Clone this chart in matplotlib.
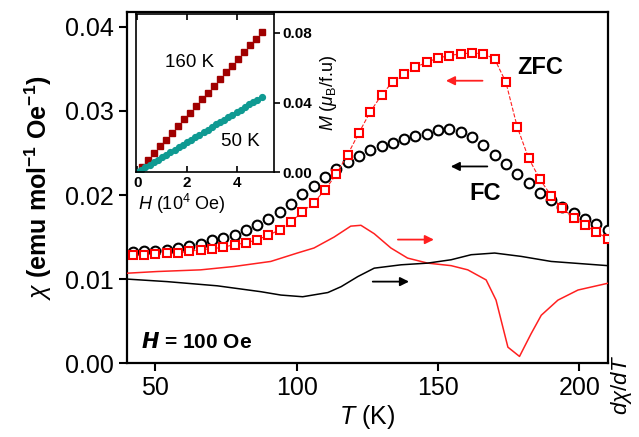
import matplotlib
matplotlib.use("Agg")
import matplotlib.pyplot as plt

plt.rcParams['font.family'] = ['Liberation Sans', 'DejaVu Sans']
plt.rcParams['mathtext.fontset'] = 'custom'
plt.rcParams['mathtext.rm'] = 'Liberation Sans'
plt.rcParams['mathtext.it'] = 'Liberation Sans:italic'
plt.rcParams['mathtext.bf'] = 'Liberation Sans:bold'

# chi(T), ZFC and FC, H = 100 Oe
T = [42, 46, 50, 54, 58, 62, 66, 70, 74, 78, 82, 86, 90, 94, 98, 102, 106, 110,
     114, 118, 122, 126, 130, 134, 138, 142, 146, 150, 154, 158, 162, 166, 170,
     174, 178, 182, 186, 190, 194, 198, 202, 206, 210]
chi_zfc = [0.0129, 0.0129, 0.0130, 0.0131, 0.0131, 0.0133, 0.0135, 0.0136, 0.0138,
           0.0141, 0.0143, 0.0147, 0.0152, 0.0159, 0.0168, 0.0180, 0.0191, 0.0206,
           0.0225, 0.0248, 0.0274, 0.0299, 0.0319, 0.0335, 0.0344, 0.0352, 0.0358,
           0.0363, 0.0366, 0.0368, 0.0369, 0.0368, 0.0362, 0.0334, 0.0281, 0.0244,
           0.0219, 0.0199, 0.0184, 0.0173, 0.0164, 0.0156, 0.0148]
chi_fc = [0.0132, 0.0133, 0.0134, 0.0135, 0.0137, 0.0139, 0.0142, 0.0146, 0.0149,
          0.0153, 0.0158, 0.0164, 0.0171, 0.0180, 0.0189, 0.0201, 0.0211, 0.0222,
          0.0231, 0.0239, 0.0246, 0.0253, 0.0258, 0.0262, 0.0267, 0.0270, 0.0273,
          0.0277, 0.0278, 0.0275, 0.0269, 0.0260, 0.0248, 0.0237, 0.0225, 0.0214,
          0.0203, 0.0194, 0.0186, 0.0179, 0.0172, 0.0166, 0.0159]

# d(chi)/dT curves (arbitrary units, right axis)
T_dzfc = [40, 50.6, 66, 77.8, 90.8, 100.2, 106.1, 113.2, 119.1, 122.7, 127.4, 133.3,
          139.2, 146.3, 154.6, 160.5, 167, 170.5, 174.7, 178.8, 182.9, 186.5, 192.4,
          199.5, 210]
dchi_zfc = [0.0107, 0.0109, 0.0111, 0.0115, 0.0121, 0.0131, 0.0137, 0.0150, 0.0163,
            0.0164, 0.0154, 0.0137, 0.0125, 0.0119, 0.0116, 0.0111, 0.0099, 0.0075,
            0.0019, 0.0008, 0.0035, 0.0057, 0.0075, 0.0087, 0.0095]
T_dfc = [40, 54.1, 71.9, 87.3, 94.4, 102.1, 111, 115.7, 121.6, 127.4, 136.9, 146.3,
         154.6, 161.7, 170, 179.4, 190, 210]
dchi_fc = [0.0100, 0.0097, 0.0092, 0.0085, 0.0081, 0.0079, 0.0084, 0.0091, 0.0103,
           0.0113, 0.0117, 0.0119, 0.0123, 0.0129, 0.0131, 0.0127, 0.0121, 0.0116]

# inset: M(H)
H_160 = [0.20, 0.44, 0.68, 0.92, 1.16, 1.40, 1.64, 1.88, 2.12, 2.36, 2.60, 2.84,
         3.08, 3.32, 3.56, 3.80, 4.04, 4.28, 4.52, 4.76, 5.00]
M_160 = [0.0032, 0.0071, 0.0109, 0.0148, 0.0187, 0.0225, 0.0264, 0.0303, 0.0341,
         0.0380, 0.0419, 0.0457, 0.0496, 0.0535, 0.0573, 0.0612, 0.0650, 0.0689,
         0.0728, 0.0766, 0.0805]
H_50 = [0.00, 0.17, 0.33, 0.50, 0.67, 0.83, 1.00, 1.17, 1.33, 1.50, 1.67, 1.83,
        2.00, 2.17, 2.33, 2.50, 2.67, 2.83, 3.00, 3.17, 3.33, 3.50, 3.67, 3.83,
        4.00, 4.17, 4.33, 4.50, 4.67, 4.83, 5.00]
M_50 = [0.0000, 0.0015, 0.0029, 0.0043, 0.0058, 0.0072, 0.0086, 0.0101, 0.0115,
        0.0130, 0.0144, 0.0158, 0.0173, 0.0187, 0.0201, 0.0216, 0.0231, 0.0245,
        0.0259, 0.0274, 0.0288, 0.0302, 0.0317, 0.0331, 0.0346, 0.0360, 0.0374,
        0.0389, 0.0403, 0.0417, 0.0432]

fig = plt.figure(figsize=(6.39, 4.37), dpi=100)
ax = fig.add_axes([0.199, 0.169, 0.752, 0.804])

ax.plot(T, chi_fc, 'o', mfc='white', mec='black', mew=1.5, ms=7, zorder=3)
ax.plot(T, chi_zfc, 's', ls='--', lw=0.8, color='#ff2020', mfc='white',
        mec='#ff0000', mew=1.5, ms=6.2, zorder=4)

ax.set_xlim(40, 210)
ax.set_ylim(0, 0.0418)
ax.set_xticks([50, 100, 150, 200])
ax.set_yticks([0.00, 0.01, 0.02, 0.03, 0.04])
ax.set_yticklabels(['0.00', '0.01', '0.02', '0.03', '0.04'])
ax.tick_params(direction='out', length=6, width=1.5, labelsize=18, right=False, top=False)
for s in ax.spines.values():
    s.set_linewidth(1.6)
ax.set_xlabel(r'$T$ (K)', fontsize=18, labelpad=2)
ax.set_ylabel(r'$\chi$ (emu mol$^{\mathbf{-1}}$ Oe$^{\mathbf{-1}}$)', fontsize=18,
              fontweight='bold', labelpad=8)

# derivative curves on the right axis
ax2 = ax.twinx()
ax2.plot(T_dzfc, dchi_zfc, color='#ff2020', lw=1.1)
ax2.plot(T_dfc, dchi_fc, color='black', lw=1.1)
ax2.set_ylim(0, 0.0418)
ax2.set_yticks([])
for s in ax2.spines.values():
    s.set_visible(False)
fig.text(0.972, 0.12, r'$d\chi/dT$', rotation=90, fontsize=16, ha='center', va='center')

# arrows
arrow_kw = dict(arrowstyle='-|>', lw=1.3, mutation_scale=13)
ax.annotate('', xy=(151.8, 0.0336), xytext=(166.7, 0.0336),
            arrowprops=dict(color='#ff2020', **arrow_kw))
ax.annotate('', xy=(153.5, 0.0234), xytext=(168.4, 0.0234),
            arrowprops=dict(color='black', **arrow_kw))
ax.annotate('', xy=(149.5, 0.0147), xytext=(134.8, 0.0147),
            arrowprops=dict(color='#ff2020', **arrow_kw))
ax.annotate('', xy=(140.7, 0.0097), xytext=(125.9, 0.0097),
            arrowprops=dict(color='black', **arrow_kw))

ax.text(186.2, 0.0352, 'ZFC', fontsize=17, fontweight='bold', ha='center', va='center')
ax.text(166.7, 0.0202, 'FC', fontsize=17, fontweight='bold', ha='center', va='center')
ax.text(45, 0.0025, r'$\mathbfit{H}$ = 100 Oe', fontsize=15, fontweight='bold',
        ha='left', va='center')

# inset
ins = fig.add_axes([0.2128, 0.606, 0.216, 0.362])
ins.plot(H_160, M_160, 's', color='#a00000', ms=4.5)
ins.plot(H_50, M_50, 'o', color='#0f9a92', ms=4.2)
ins.set_xlim(-0.05, 5.5)
ins.set_ylim(0, 0.0909)
ins.set_xticks([0, 2, 4])
ins.set_yticks([0.00, 0.04, 0.08])
ins.set_yticklabels(['0.00', '0.04', '0.08'])
ins.yaxis.tick_right()
ins.yaxis.set_label_position('right')
ins.tick_params(axis='x', direction='in', top=True, length=4, width=1.2, labelsize=11, pad=3)
ins.tick_params(axis='y', direction='out', left=False, length=4, width=1.2, labelsize=11, pad=2)
for lab in ins.get_xticklabels() + ins.get_yticklabels():
    lab.set_fontweight('bold')
for s in ins.spines.values():
    s.set_linewidth(1.2)
ins.set_xlabel(r'$H$ (10$^4$ Oe)', fontsize=13, labelpad=1, x=0.33)
ins.set_ylabel(r'$M$ ($\mu_{\rm B}$/f.u)', fontsize=13, labelpad=4)
ins.text(2.1, 0.063, '160 K', fontsize=13.5, ha='center', va='center')
ins.text(4.15, 0.0177, '50 K', fontsize=13.5, ha='center', va='center')

fig.savefig('out.png', dpi=100)
